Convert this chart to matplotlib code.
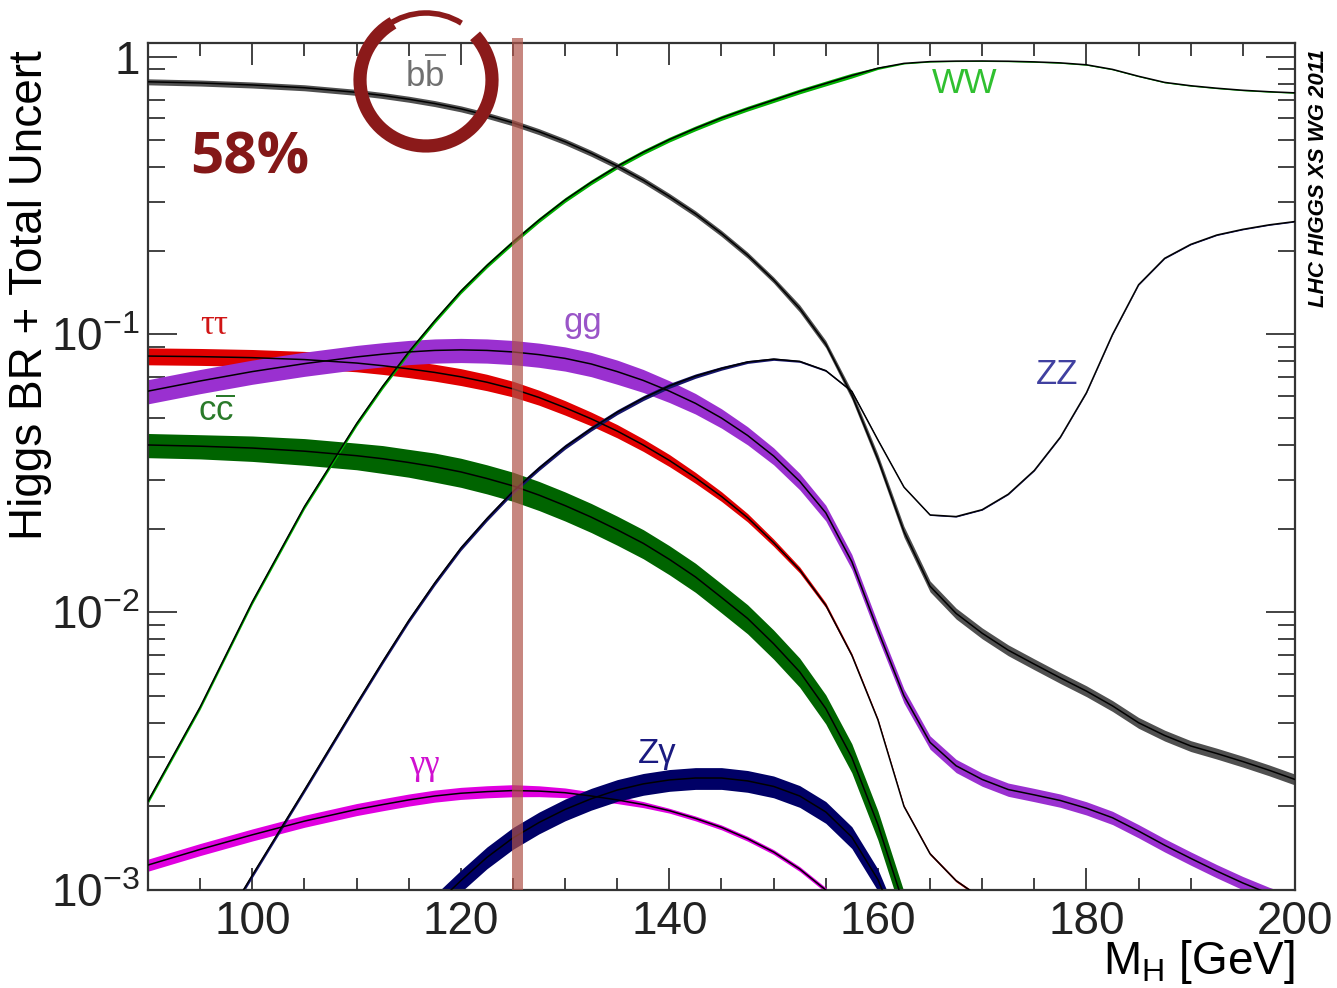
import numpy as np
import matplotlib
matplotlib.use('Agg')
import matplotlib.pyplot as plt
from matplotlib.patches import Arc
from matplotlib.transforms import IdentityTransform
from matplotlib.ticker import FixedLocator, FuncFormatter, LogLocator, MultipleLocator

plt.rcParams['font.family'] = ['Liberation Sans', 'DejaVu Sans']
plt.rcParams['mathtext.fontset'] = 'custom'
plt.rcParams['mathtext.rm'] = 'Liberation Sans'
plt.rcParams['mathtext.it'] = 'Liberation Sans:italic'
plt.rcParams['mathtext.bf'] = 'Liberation Sans:bold'

# Higgs mass grid (GeV)
mass = [90, 95, 100, 105,
        110, 112.5, 115, 117.5, 120, 122.5, 125, 127.5, 130, 132.5, 135,
        137.5, 140, 142.5, 145, 147.5, 150, 152.5, 155, 157.5, 160, 162.5,
        165, 167.5, 170, 172.5, 175, 177.5, 180, 182.5, 185, 187.5, 190,
        192.5, 195, 197.5, 200]

# branching ratios
br_bb = [.812, .804, .791, .773,
         .744, .725, .703, .678, .649, .615, .578, .537, .494, .449, .404,
         .359, .314, .272, .231, .193, .157, .124, .0923, .0605, .0356, .0195,
         .0124, .0099, .0084, .0073, .0065, .0058, .0052, .0046, .0040, .0036, .0033,
         .0031, .0029, .0027, .0025]
br_ww = [.00209, .00456, .0109, .0240,
         .0477, .0650, .0864, .112, .143, .177, .215, .258, .305, .353, .403,
         .453, .503, .552, .602, .650, .698, .750, .801, .855, .909, .946,
         .960, .964, .965, .963, .958, .950, .935, .900, .850, .808, .786,
         .770, .757, .748, .741]
br_zz = [2.5e-4, 5.5e-4, 1.13e-3, 2.29e-3,
         .00468, .00664, .00933, .01274, .0170, .0217, .0272, .0330, .0394, .0458, .0525,
         .0590, .0653, .0708, .0755, .0796, .0815, .0800, .0741, .0624, .0417, .0282,
         .0224, .0221, .0234, .0266, .0324, .0427, .0617, .100, .151, .188, .211,
         .228, .239, .248, .255]
br_tautau = [.0836, .0832, .0825, .0812,
             .0789, .0772, .0752, .0730, .0704, .0673, .0637, .0593, .0545, .0497, .0449,
             .0400, .0352, .0305, .0261, .0219, .0178, .0142, .0106, .0070, .0041, .0020,
             .00135, .00108, .00093, .00084, .00077, .00070, .00064, .00056, .00048, .00044, .00041,
             .00038, .00035, .00033, .00031]
br_gg = [.0625, .0680, .0735, .0785,
         .0830, .0849, .0865, .0876, .0880, .0876, .0865, .0846, .0820, .0783, .0735,
         .0683, .0625, .0565, .0500, .0433, .0365, .0296, .0228, .0152, .0086, .0050,
         .0034, .0028, .0025, .0023, .0022, .0021, .00197, .00182, .00163, .00145, .00130,
         .00117, .00106, .00097, .00090]
br_cc = [.0400, .0396, .0390, .0380,
         .0366, .0357, .0346, .0334, .0320, .0303, .0285, .0264, .0242, .0220, .0198,
         .0177, .0155, .0134, .0113, .0095, .0077, .0061, .0045, .0030, .00172, .00088,
         .00057, .00045, .00039, .00035, .00031, .00028, .00025, .00022, .00019, .00017, .00016,
         .00015, .00014, .00013, .00012]
br_gamgam = [.00123, .00140, .00158, .00177,
             .00195, .00203, .00211, .00218, .00223, .00226, .00228, .00227, .00224, .00218, .00211,
             .00203, .00193, .00181, .00168, .00153, .00137, .00119, .00100, .00079, .00053, .00032,
             .00023, .00018, .00014, .00012, .00011, .00010, .00009, .00008, .00007, .000065, .00006,
             .000058, .000055, .000052, .00005]
br_zgam = [1e-6, 4.6e-6, 4.9e-5, 1.7e-4,
           3.85e-4, 5.3e-4, 6.9e-4, 8.8e-4, 1.08e-3, 1.31e-3, 1.54e-3, 1.75e-3, 1.95e-3, 2.13e-3, 2.29e-3,
           2.41e-3, 2.49e-3, 2.53e-3, 2.53e-3, 2.47e-3, 2.36e-3, 2.18e-3, 1.91e-3, 1.55e-3, 1.09e-3, 6.5e-4,
           4.35e-4, 3.5e-4, 2.96e-4, 2.6e-4, 2.3e-4, 2.1e-4, 1.9e-4, 1.7e-4, 1.5e-4, 1.4e-4, 1.3e-4,
           1.2e-4, 1.15e-4, 1.07e-4, 1.0e-4]

# total relative uncertainty (half width of each band)
unc_bb = [.025] * 21 + [.03, .03, .035, .04, .045] + [.045] * 15
unc_ww = [.02] * 24 + [.01, .005] + [.004] * 15
unc_zz = [.02] * 17 + [.018, .015, .012, .01, .008, .007, .006, .005, .004] + [.004] * 15
unc_tautau = ([.07] * 9 + [.068, .065, .062, .06, .057, .055]
              + [.052, .05, .045, .04, .035, .03, .025, .02, .015, .012, .01] + [.01] * 15)
unc_gg = ([.10] * 15 + [.095, .09, .085, .08, .075, .07, .068, .065, .062, .06, .058]
          + [.055] * 15)
unc_cc = [.10, .10, .105, .11, .11, .115, .115] + [.12] * 34
unc_gamgam = [.05] * 11 + [.045, .04, .035, .03] + [.025] + [.02] * 25
unc_zgam = [.09] * 41

mh_obs = (124.9, 126.0)  # highlighted mass window

channels = [
    ('cc', br_cc, unc_cc, '#006400'),
    ('gamgam', br_gamgam, unc_gamgam, '#e000e0'),
    ('zgam', br_zgam, unc_zgam, '#000066'),
    ('tautau', br_tautau, unc_tautau, '#e00000'),
    ('gg', br_gg, unc_gg, '#9a30d0'),
    ('zz', br_zz, unc_zz, '#15156a'),
    ('ww', br_ww, unc_ww, '#00b000'),
    ('bb', br_bb, unc_bb, '#505050'),
]

fig = plt.figure(figsize=(13.37, 9.88), dpi=100)
ax = fig.add_axes([148 / 1337, 1 - 890 / 988, (1295 - 148) / 1337, (890 - 43) / 988])

m = np.array(mass)
for name, br, unc, col in channels:
    br = np.array(br)
    unc = np.array(unc)
    ax.fill_between(m, br * (1 - unc), br * (1 + unc), color=col, lw=0, zorder=2)
    ax.plot(m, br, color='black', lw=1.1, zorder=3)

ax.axvspan(mh_obs[0], mh_obs[1], ymin=0, ymax=1.006, color='#b0544a', alpha=0.7,
           lw=0, zorder=5, clip_on=False)

ax.set_xlim(90, 200)
ax.set_yscale('log')
ax.set_ylim(1e-3, 1.12)

ax.xaxis.set_major_locator(MultipleLocator(20))
ax.xaxis.set_minor_locator(MultipleLocator(5))
ax.yaxis.set_major_locator(FixedLocator([1e-3, 1e-2, 1e-1, 1]))
ax.yaxis.set_minor_locator(LogLocator(base=10, subs=np.arange(2, 10)))
ylabels = {1e-3: r'$10^{-3}$', 1e-2: r'$10^{-2}$', 1e-1: r'$10^{-1}$', 1: '1'}
ax.yaxis.set_major_formatter(FuncFormatter(lambda v, p: ylabels.get(round(v, 6), '')))
ax.yaxis.set_minor_formatter(FuncFormatter(lambda v, p: ''))

ax.tick_params(which='both', direction='in', top=True, right=True, width=1.2, colors='#222222')
ax.tick_params(axis='y', which='major', length=21, labelsize=33, pad=6)
ax.tick_params(axis='y', which='minor', length=12)
ax.tick_params(axis='x', which='major', length=16, labelsize=33, pad=7)
ax.tick_params(axis='x', which='minor', length=9)
for s in ax.spines.values():
    s.set_linewidth(1.6)
    s.set_color('#333333')

fig.text(30 / 1337, 1 - 50 / 988, 'Higgs BR + Total Uncert', rotation=90,
         ha='center', va='top', fontsize=33)
fig.text(1295 / 1337, 1 - 962 / 988, r'$\mathrm{M_H}$ [GeV]', ha='right', va='center', fontsize=33)
fig.text(1318 / 1337, 1 - 178 / 988, 'LHC HIGGS XS WG 2011', rotation=90, ha='center', va='center',
         fontsize=16, fontweight='bold', fontstyle='italic')

# channel labels (data coords)
lab = dict(fontsize=25, ha='center', va='center', zorder=6)
serif = ['Liberation Serif', 'DejaVu Serif']
ax.text(116.6, 0.86, r'$\mathrm{b}\overline{\mathrm{b}}$', color='#707070', **lab)
ax.text(168.3, 0.80, 'WW', color='#30c030', **lab)
ax.text(96.4, 0.108, 'ττ', color='#d01515', family=serif, **lab)
ax.text(131.7, 0.110, 'gg', color='#9a55c8', **lab)
ax.text(96.6, 0.053, r'$\mathrm{c}\overline{\mathrm{c}}$', color='#2a7a2a', **lab)
ax.text(177.2, 0.072, 'ZZ', color='#4040a0', **lab)
ax.text(116.5, 0.0028, 'γγ', color='#d010d0', family=serif, **lab)
ax.text(138.8, 0.0031, 'Zγ', color='#1a1a80', **lab)

# highlight annotations (pixel positions, origin bottom-left)
fig.text(250 / 1337, 1 - 158 / 988, '58%', color='#841818', fontsize=42, fontweight='bold',
         family=['Open Sans', 'DejaVu Sans'], ha='center', va='center')
ring_c = (426, 988 - 80)
fig.add_artist(Arc(ring_c, 132, 132, theta1=120, theta2=402, transform=IdentityTransform(),
                   color='#8b1a1a', lw=9.5, zorder=10))
fig.add_artist(Arc(ring_c, 134, 134, theta1=58, theta2=125, transform=IdentityTransform(),
                   color='#8b1a1a', lw=4, zorder=10))

fig.savefig('out.png', dpi=100, facecolor='white')
